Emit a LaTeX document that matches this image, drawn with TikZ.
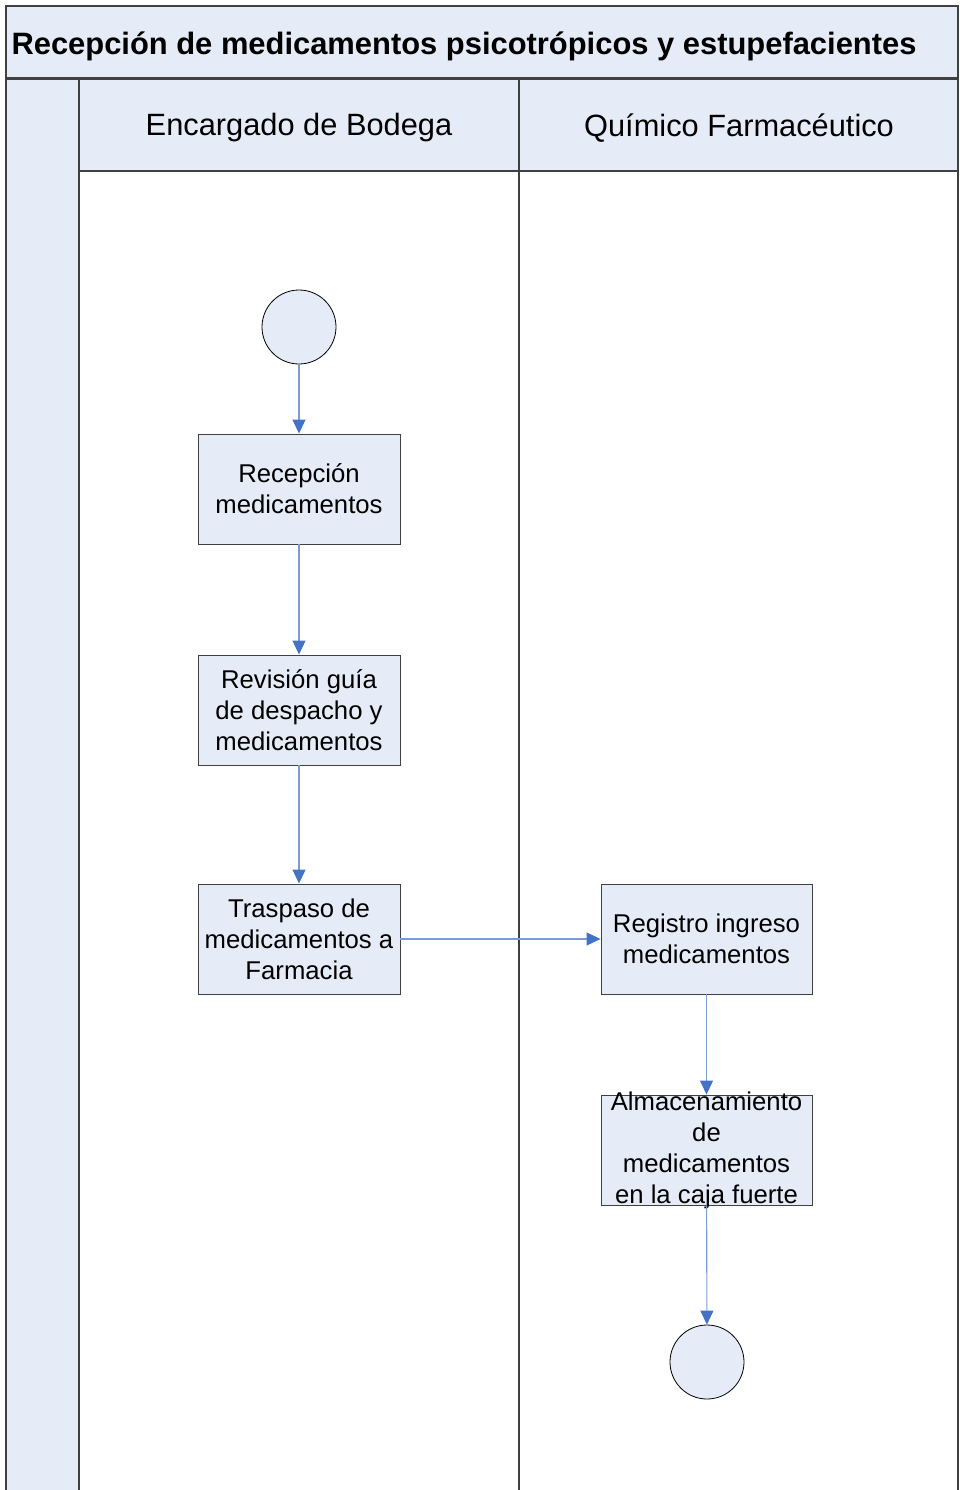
\documentclass[tikz,border=0pt]{standalone}
\usepackage{fontspec}
\setmainfont{Liberation Sans}
\usetikzlibrary{arrows.meta}
\definecolor{paleblue}{RGB}{230,236,247}
\definecolor{framegray}{RGB}{64,64,64}
\definecolor{flowline}{RGB}{122,156,214}
\definecolor{flowhead}{RGB}{68,114,196}
\tikzset{
  boxfont/.style={font=\fontsize{25.7}{31}\selectfont},
  activity/.style={draw=framegray, line width=0.9pt, fill=paleblue,
    minimum width=202pt, minimum height=110pt, inner sep=0pt, align=center,
    boxfont},
  terminal/.style={circle, draw=black, line width=0.8pt, fill=paleblue,
    minimum size=74pt, inner sep=0pt},
  flow/.style={draw=flowline, line width=1.1pt,
    -{Triangle[length=14pt,width=13pt,color=flowhead]}},
  lanehead/.style={font=\fontsize{30.8}{36}\selectfont}
}
\begin{document}
\begin{tikzpicture}[x=1pt,y=-1pt]
\useasboundingbox (0,0) rectangle (960,1490);
% pool: title band and left strip
\fill[paleblue] (6,6) rectangle (958,78);
\fill[paleblue] (6,80) rectangle (79,1490);
\fill[paleblue] (79,80) rectangle (958,171);
\draw[framegray, line width=1.4pt] (6,1490) -- (6,6) -- (958,6) -- (958,1490);
\draw[framegray, line width=3pt] (6,78.5) -- (958,78.5);
% lanes
\draw[framegray, line width=1.4pt] (79,80) -- (79,1490);
\draw[framegray, line width=1.4pt] (519,80) -- (519,1490);
\draw[framegray, line width=1.4pt] (79,171) -- (958,171);
\node[anchor=west, font=\bfseries\fontsize{30.9}{36}\selectfont] (title) at (8,46)
  {Recepción de medicamentos psicotrópicos y estupefacientes};
\node[lanehead] (laneA) at (299,128) {Encargado de Bodega};
\node[lanehead] (laneB) at (739,128) {Químico Farmacéutico};
% activities
\node[terminal] (start) at (299,327) {};
\node[activity] (a1) at (299,489) {Recepción\\medicamentos};
\node[activity] (a2) at (299,710) {Revisión guía\\de despacho y\\medicamentos};
\node[activity] (a3) at (299,939) {Traspaso de\\medicamentos a\\Farmacia};
\node[activity, minimum width=211pt] (b1) at (706.5,939) {Registro ingreso\\medicamentos};
% the text of this box runs over its top and bottom edges
\node[activity, minimum width=211pt,
  label={[boxfont, align=center, inner sep=0pt]center:Almacenamiento\\de\\medicamentos\\en la caja fuerte}]
  (b2) at (706.5,1150) {};
\node[terminal] (stop) at (707,1362) {};
% connectors
\draw[flow] (start) -- (a1);
\draw[flow] (a1) -- (a2);
\draw[flow] (a2) -- (a3);
\draw[flow] (a3) -- (b1);
\draw[flow] (b1) -- (b2);
\draw[flow] (b2) -- (stop);
\end{tikzpicture}
\end{document}
